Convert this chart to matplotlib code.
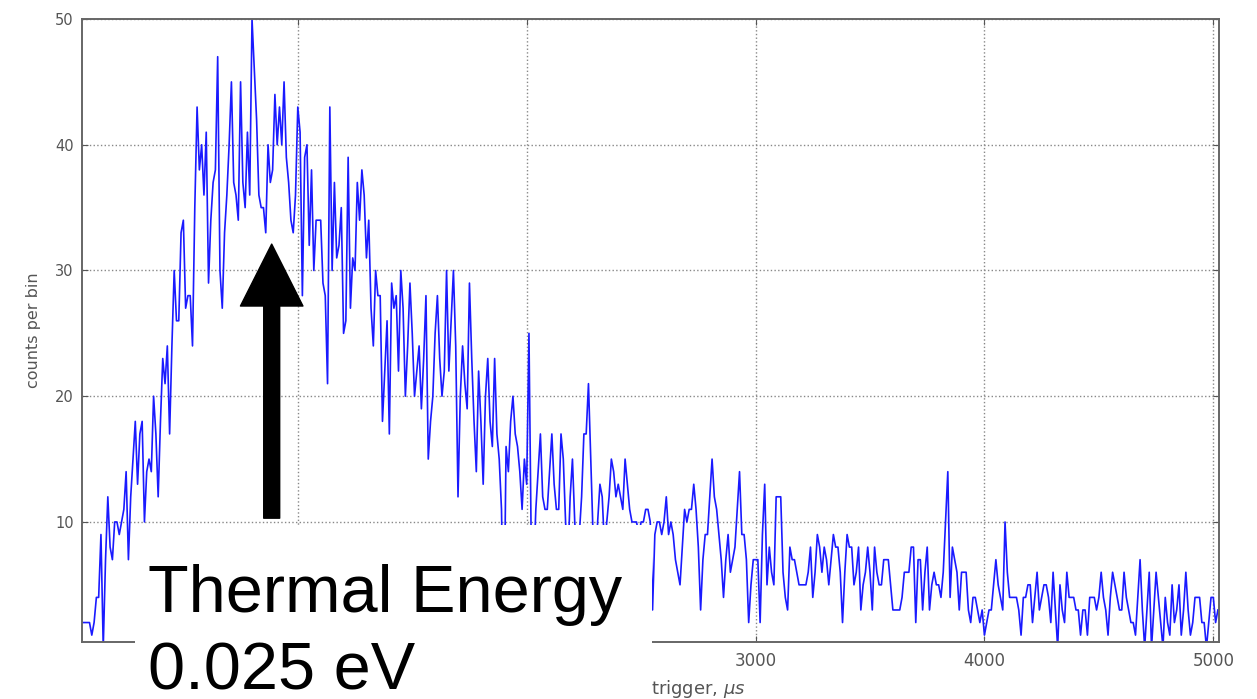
import numpy as np
import matplotlib.pyplot as plt
from matplotlib.patches import Rectangle

# histogram of arrival times, 10 us bins starting at 60 us
bin_start = 60
bin_width = 10
counts = [
    2, 2, 2, 2, 1, 2, 4, 4, 9, 0,
    7, 12, 8, 7, 10, 10, 9, 10, 11, 14,
    7, 12, 15, 18, 13, 17, 18, 10, 14, 15,
    14, 20, 17, 12, 18, 23, 21, 24, 17, 24,
    30, 26, 26, 33, 34, 27, 28, 28, 24, 35,
    43, 38, 40, 36, 41, 29, 34, 37, 38, 47,
    30, 27, 33, 36, 40, 45, 37, 36, 34, 45,
    37, 35, 41, 36, 50, 46, 42, 36, 35, 35,
    33, 40, 37, 38, 44, 40, 43, 40, 45, 39,
    37, 34, 33, 36, 43, 41, 28, 39, 40, 32,
    38, 30, 34, 34, 34, 29, 28, 21, 43, 30,
    37, 31, 32, 35, 25, 26, 39, 27, 31, 30,
    37, 34, 38, 36, 31, 34, 27, 24, 30, 28,
    28, 18, 22, 26, 17, 29, 27, 28, 22, 30,
    27, 20, 24, 29, 25, 20, 22, 24, 19, 23,
    28, 15, 18, 20, 25, 28, 23, 20, 22, 30,
    22, 26, 30, 24, 12, 20, 24, 21, 19, 29,
    23, 18, 14, 22, 18, 13, 20, 23, 18, 16,
    23, 17, 15, 11, 0, 16, 14, 18, 20, 17,
    16, 14, 11, 15, 13, 25, 8, 6, 11, 14,
    17, 12, 11, 11, 14, 17, 13, 11, 11, 17,
    15, 10, 7, 12, 15, 10, 7, 9, 12, 17,
    17, 21, 15, 9, 6, 10, 13, 12, 8, 10,
    12, 15, 14, 12, 13, 12, 11, 15, 13, 11,
    10, 10, 10, 9, 10, 10, 11, 11, 10, 3,
    9, 10, 10, 9, 10, 12, 9, 10, 9, 7,
    6, 5, 8, 11, 10, 11, 11, 13, 11, 8,
    3, 7, 9, 9, 12, 15, 12, 11, 9, 7,
    4, 7, 9, 6, 7, 8, 11, 14, 9, 9,
    7, 2, 5, 7, 7, 7, 2, 9, 13, 5,
    8, 6, 5, 12, 12, 12, 6, 4, 3, 8,
    7, 7, 6, 5, 5, 5, 5, 6, 8, 4,
    6, 9, 8, 6, 8, 7, 5, 7, 9, 8,
    8, 6, 2, 6, 9, 8, 8, 5, 6, 8,
    3, 5, 6, 8, 6, 3, 8, 6, 5, 5,
    7, 7, 7, 5, 3, 3, 3, 3, 4, 6,
    6, 6, 8, 8, 2, 7, 7, 3, 6, 8,
    3, 5, 6, 5, 5, 4, 6, 10, 14, 4,
    8, 7, 6, 3, 6, 6, 6, 3, 2, 4,
    4, 3, 2, 3, 1, 2, 3, 3, 5, 7,
    5, 4, 3, 10, 6, 4, 4, 4, 4, 3,
    1, 4, 4, 5, 5, 2, 4, 6, 3, 4,
    5, 5, 4, 2, 6, 3, 0, 5, 3, 2,
    6, 4, 4, 4, 3, 3, 1, 3, 3, 1,
    4, 4, 4, 3, 4, 6, 4, 3, 1, 4,
    6, 5, 4, 3, 3, 6, 4, 3, 2, 2,
    1, 4, 7, 3, 0, 3, 6, 0, 3, 6,
    4, 2, 0, 4, 2, 1, 5, 2, 3, 5,
    1, 3, 6, 3, 1, 2, 4, 4, 4, 2,
    2, 0, 2, 4, 4, 2, 3,
]
times = bin_start + bin_width * np.arange(len(counts))

fig = plt.figure(figsize=(12.57, 6.99), dpi=100)
ax = fig.add_axes([0.0652, 0.0815, 0.9046, 0.8913])

ax.plot(times, counts, color="#1a1aff", lw=1.2)
ax.set_xlim(57, 5025)
ax.set_ylim(0.45, 50)
ax.set_xticks([1000, 2000, 3000, 4000, 5000])
ax.set_yticks([10, 20, 30, 40, 50])
ax.grid(True, color="#888888", linestyle=":", linewidth=1.0)
ax.tick_params(direction="in", top=True, right=True, length=4,
               labelcolor="#555555", color="#555555")
ax.tick_params(axis="x", labelsize=12, pad=7)
ax.tick_params(axis="y", labelsize=10.5, pad=6)
for s in ax.spines.values():
    s.set_color("#666666")
    s.set_linewidth(1.4)
ax.set_ylabel("counts per bin", fontsize=11.5, color="#555555", labelpad=10)
ax.set_xlabel("time after trigger, $\\mu s$", fontsize=13, color="#555555",
              labelpad=6)

# arrow pointing at the thermal peak
ax.annotate("", xy=(886, 32.1), xytext=(886, 10.3),
            arrowprops=dict(facecolor="black", edgecolor="black",
                            width=11.5, headwidth=45, headlength=44.6,
                            shrink=0))

# white label box over the lower left of the plot
fig.patches.append(Rectangle((135 / 1257, 0), (652 - 135) / 1257, (699 - 525) / 699,
                             transform=fig.transFigure, facecolor="white",
                             edgecolor="none", zorder=2))
fig.text(148 / 1257, (699 - 612) / 699, "Thermal Energy", fontsize=48,
         family="Liberation Sans", va="baseline", zorder=3)
fig.text(148 / 1257, (699 - 690) / 699, "0.025 eV", fontsize=48,
         family="Liberation Sans", va="baseline", zorder=3)

fig.savefig("out.png", dpi=100)
